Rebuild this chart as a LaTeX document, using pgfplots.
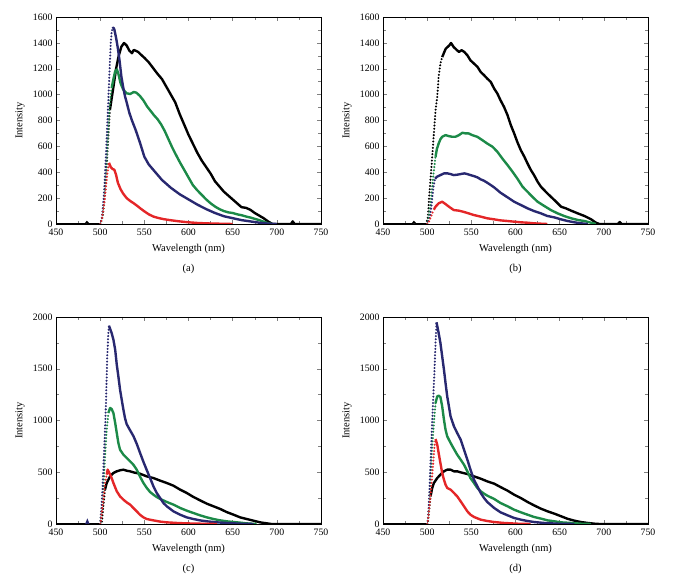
\documentclass[border=0pt]{standalone}
\usepackage{fontspec}
\setmainfont{Liberation Serif}
\usepackage{pgfplots}
\pgfplotsset{compat=1.18}
\definecolor{cblack}{RGB}{0,0,0}
\definecolor{cblue}{RGB}{40,40,112}
\definecolor{cgreen}{RGB}{28,138,72}
\definecolor{cred}{RGB}{228,38,40}
\pgfplotsset{
  rise/.style={line width=2.3pt, line cap=round, dash pattern=on 0pt off 3.2pt},
  main/.style={line width=2.4pt, line join=round},
  base/.style={line width=1.8pt},
  panel/.style={
    width=265bp, height=207bp, scale only axis, anchor=south west,
    xmin=450, xmax=750, xtick={450,500,...,750}, minor x tick num=1, minor y tick num=1,
    ymin=0,
    /pgf/number format/1000 sep={}, /pgf/number format/assume math mode=true,
    tick label style={font=\fontsize{9.8bp}{11bp}\selectfont},
    x tick label style={yshift=-1.5bp},
    label style={font=\fontsize{10.5bp}{12bp}\selectfont},
    xlabel={Wavelength (nm)}, ylabel={Intensity},
    x label style={at={(axis description cs:0.5,-0.121)}, anchor=center},
    y label style={at={(axis description cs:-0.136,0.5)}, anchor=center},
    tick style={line width=0.4pt},
    clip mode=individual,
  },
}
\newcommand{\curve}[3]{%
  \addplot[#1, rise] coordinates {#2};
  \addplot[#1, main] coordinates {#3};
}
\newcommand{\plabel}[1]{\node[font=\fontsize{10.5bp}{12bp}\selectfont] at (axis description cs:0.5,-0.217) {#1};}
\begin{document}
\begin{tikzpicture}
\path[use as bounding box] (0,0) rectangle (681bp,581bp);
% (a)
\begin{axis}[panel, at={(56bp,357bp)}, ymax=1600, ytick={0,200,...,1600}]
\addplot[cblack, base] coordinates {(450,0) (483,0) (485,15) (487,0) (500,0)};
\curve{cblack}{(500,0) (503,60) (505,200) (507,400) (509,650) (511,880)}
{(511,880) (513,970) (515,1060) (518,1200) (521,1300) (524,1370) (527,1399) (530,1380) (533,1340) (536,1320) (538,1345) (540,1340) (543,1330) (546,1310) (550,1285) (555,1250) (560,1205) (565,1160) (570,1120) (575,1060) (580,1000) (585,940) (590,850) (595,770) (600,690) (605,620) (610,550) (615,490) (620,440) (625,390) (630,330) (635,290) (640,250) (645,220) (650,190) (655,160) (660,130) (665,125) (670,110) (675,85) (680,65) (685,45) (690,20) (695,0) (716,0) (718,20) (720,0) (750,0)}
\curve{cgreen}{(500,0) (502,40) (504,150) (506,350) (508,600) (510,850) (512,1000) (513,1050)}
{(513,1050) (515,1120) (517,1180) (519,1195) (521,1150) (523,1090) (526,1040) (530,1010) (534,1005) (538,1020) (541,1015) (545,990) (549,955) (553,910) (557,875) (561,840) (565,810) (569,770) (573,720) (577,660) (581,600) (585,545) (590,480) (595,420) (600,360) (605,300) (610,260) (615,225) (620,190) (625,160) (630,135) (635,115) (640,100) (645,90) (650,85) (655,75) (660,68) (665,58) (670,50) (675,40) (680,30) (685,18) (690,5) (695,0)}
\curve{cblue}{(500,0) (502,50) (504,200) (505,320) (506,450) (507,600) (508,760) (509,920) (510,1080) (511,1250) (512,1400) (513,1480) (514,1510)}
{(514,1510) (515,1517) (516,1505) (518,1440) (520,1360) (522,1260) (524,1140) (526,1060) (528,990) (530,940) (533,860) (536,800) (540,730) (545,630) (550,520) (555,460) (560,420) (570,340) (580,280) (590,230) (600,190) (610,150) (620,115) (630,85) (640,60) (650,45) (660,30) (670,20) (680,10) (690,3) (700,0)}
\curve{cred}{(500,0) (502,40) (504,130) (506,250) (508,380) (510,473)}
{(510,473) (512,440) (514,425) (516,420) (518,380) (520,320) (523,270) (526,235) (530,200) (534,178) (538,160) (542,140) (546,118) (550,98) (555,75) (560,58) (565,48) (570,40) (575,34) (580,29) (590,20) (600,13) (610,8) (620,5) (630,3) (650,0)}
\plabel{(a)}
\end{axis}
% (b)
\begin{axis}[panel, at={(383bp,357bp)}, ymax=1600, ytick={0,200,...,1600}]
\addplot[cblack, base] coordinates {(450,0) (483,0) (485,15) (487,0) (499,0)};
\curve{cblack}{(499,0) (501,60) (502,185) (504,365) (505.7,520) (507.6,700) (509.5,880) (511.4,980) (513,1140) (515,1240) (517,1290)}
{(517,1290) (521,1355) (525,1380) (527,1399) (530,1368) (533,1348) (536,1330) (539,1343) (542,1330) (545.5,1304) (549,1265) (553,1240) (557,1214) (560.6,1175) (564.4,1150) (568,1124) (572,1098) (575.8,1047) (579.5,1008) (583,957) (587,905) (591,841) (594.7,764) (598.5,700) (602,635) (606,571) (610,520) (613.6,468) (617.4,417) (621,378) (625,327) (628.8,288) (636,237) (644,185) (651.5,134) (657,121) (663,103) (670.5,82) (678,62) (685.6,36) (691,10) (695,0) (716,0) (718,15) (720,0) (750,0)}
\curve{cgreen}{(500,0) (502,57) (504,170) (505.7,288) (507.5,410) (509.5,520)}
{(509.5,520) (511,580) (513,622) (515,655) (517,674) (520.8,687) (524.6,679) (528.4,674) (532,674) (536,687) (539.8,705) (543.6,700) (547,700) (551,687) (556.8,674) (562.5,648) (568,622) (574,597) (579.5,558) (585,507) (591,455) (596.6,404) (602,352) (608,288) (613.6,249) (619,211) (625,172) (632.6,139) (640,108) (647.7,82) (655,62) (663,44) (670.5,31) (678,23) (685.6,10) (691,0)}
\curve{cblue}{(500,0) (503,50) (505,150) (507,280) (509,350)}
{(509,350) (511,365) (515,378) (519,391) (523,391) (526.5,386) (530,378) (534,381) (538,386) (542,391) (545.5,386) (549,378) (553,370) (557,360) (560.6,345) (564.4,334) (568,319) (572,301) (575.8,283) (579.5,262) (583,242) (587,224) (591,206) (598.5,172) (606,147) (613.6,121) (621,100) (628.8,82) (636,62) (644,51) (651.5,36) (659,23) (666.7,13) (674,5) (682,0)}
\curve{cred}{(500,0) (502,18) (504,50) (505.7,82) (507.5,110)}
{(507.5,110) (509.5,134) (513,160) (517,172) (520.8,154) (524.6,134) (530,108) (536,103) (541.7,93) (547,82) (553,69) (560.6,57) (568,44) (575.8,36) (583,28) (591,23) (598.5,18) (606,13) (613.6,10) (621,5) (636,0)}
\plabel{(b)}
\end{axis}
% (c)
\begin{axis}[panel, at={(56bp,57bp)}, ymax=2000, ytick={0,500,...,2000}]
\addplot[cblack, base] coordinates {(450,0) (500,0)};
\addplot[cblue, base] coordinates {(484,0) (485.5,32) (487,0)};
\curve{cblack}{(500,0) (501.8,10) (503.6,171) (505.5,332)}
{(505.5,332) (507.4,396) (511.2,460) (515,493) (518.8,509) (522.5,519) (526.3,525) (530,515) (533.9,509) (537.6,499) (545,486) (552.8,460) (560.3,444) (567.9,419) (575.4,396) (583,370) (590.5,332) (598,300) (605.6,261) (613,229) (620.8,196) (628.3,171) (636,145) (643,116) (651,90) (658.5,64) (666,48) (673.6,32) (681,16) (688.8,6) (694,0) (750,0)}
\curve{cgreen}{(500,0) (501.8,138) (503.6,332) (505.5,654) (507.4,911) (509.3,1072)}
{(509.3,1072) (511.2,1121) (513,1111) (515,1072) (517,976) (518.8,879) (520.6,783) (522.5,718) (526.3,670) (530,638) (533.9,605) (537.6,573) (541.4,525) (545,460) (549,396) (552.8,348) (556.5,309) (560.3,283) (564,261) (567.9,242) (575.4,213) (583,187) (590.5,155) (598,129) (605.6,106) (613,84) (620.8,64) (628.3,48) (636,35) (643,26) (651,19) (658.5,13) (666,6) (677,0)}
\curve{cblue}{(500,0) (501.8,203) (503.6,525) (505.5,911) (506.7,1201) (507.4,1427) (508,1620) (509.3,1845) (510,1916)}
{(510,1916) (511.5,1880) (513,1845) (515,1781) (517,1684) (518.8,1539) (520.6,1427) (522.5,1298) (524.4,1201) (526.3,1105) (528.2,1020) (530,965) (533.9,905) (537.6,850) (541.4,775) (545.2,686) (549,600) (552.8,520) (556.5,444) (560.3,364) (564,300) (567.9,251) (571.6,203) (575.4,171) (583,122) (590.5,90) (598,64) (605.6,48) (613,35) (620.8,26) (632,16) (643,10) (658.5,3) (673.6,0)}
\curve{cred}{(500,0) (501,42) (503.6,235) (505.5,396) (507.4,477)}
{(507.4,477) (508.5,525) (510.4,493) (513,444) (515,396) (518.8,316) (522.5,267) (526.3,235) (530,209) (533.9,187) (537.6,155) (541.4,122) (545,90) (549,64) (552.8,48) (560.3,35) (567.9,23) (575.4,16) (586.8,10) (598,6) (613,3) (632,0)}
\plabel{(c)}
\end{axis}
% (d)
\begin{axis}[panel, at={(383bp,57bp)}, ymax=2000, ytick={0,500,...,2000}]
\addplot[cblack, base] coordinates {(450,0) (500,0)};
\curve{cblack}{(500,0) (500.8,10) (502.3,138) (503.8,267)}
{(503.8,267) (505.7,348) (507.6,396) (511.4,444) (515,477) (519,509) (522.7,525) (526.5,525) (530.3,509) (534,509) (537.9,499) (545.5,483) (553,460) (560.6,438) (568,412) (575.8,390) (583,357) (591,322) (598.5,283) (606,251) (613.6,213) (621,180) (628.8,148) (636.4,122) (644,100) (651.5,75) (659,50) (666.7,32) (674,19) (681.8,10) (689.4,3) (695,0) (750,0)}
\curve{cgreen}{(500,0) (500.8,26) (502.3,171) (503.8,460) (505.7,750) (507.6,976) (509.5,1169)}
{(509.5,1169) (511.4,1233) (513,1240) (515,1227) (517,1137) (519,1008) (520.8,911) (522.7,847) (526.5,783) (530.3,725) (534,670) (537.9,622) (541.7,573) (545.5,509) (549,444) (553,396) (556.8,348) (560.6,316) (564.4,293) (568,274) (575.8,242) (583,203) (591,171) (598.5,138) (606,113) (613.6,90) (621,68) (628.8,52) (636.4,35) (644,26) (651.5,16) (663,10) (674,3) (685.6,0)}
\curve{cblue}{(500,0) (500.8,42) (502.3,267) (503.8,589) (505.3,911) (506.8,1201) (508.3,1491) (509.5,1749) (510.6,1948)}
{(510.6,1948) (513,1845) (515,1749) (517,1620) (519,1491) (520.8,1362) (522.7,1233) (524.6,1137) (526.5,1040) (530.3,944) (534,879) (537.9,815) (541.7,718) (545.5,622) (549,525) (553,428) (556.8,364) (560.6,300) (564.4,251) (568,213) (575.8,155) (583,113) (591,84) (598.5,58) (606,42) (613.6,29) (621,19) (632.6,10) (647.7,3) (666.7,0)}
\curve{cred}{(500,0) (500.8,26) (503,203) (505,396) (506.8,589) (508.3,750) (509.5,821)}
{(509.5,821) (511.4,767) (513,686) (515,589) (517,493) (519,428) (520.8,380) (522.7,348) (526.5,332) (530.3,300) (534,267) (537.9,219) (541.7,171) (545.5,122) (549,90) (553,68) (556.8,55) (560.6,42) (568,29) (575.8,19) (587,10) (602,3) (617,0)}
\plabel{(d)}
\end{axis}
\end{tikzpicture}
\end{document}
